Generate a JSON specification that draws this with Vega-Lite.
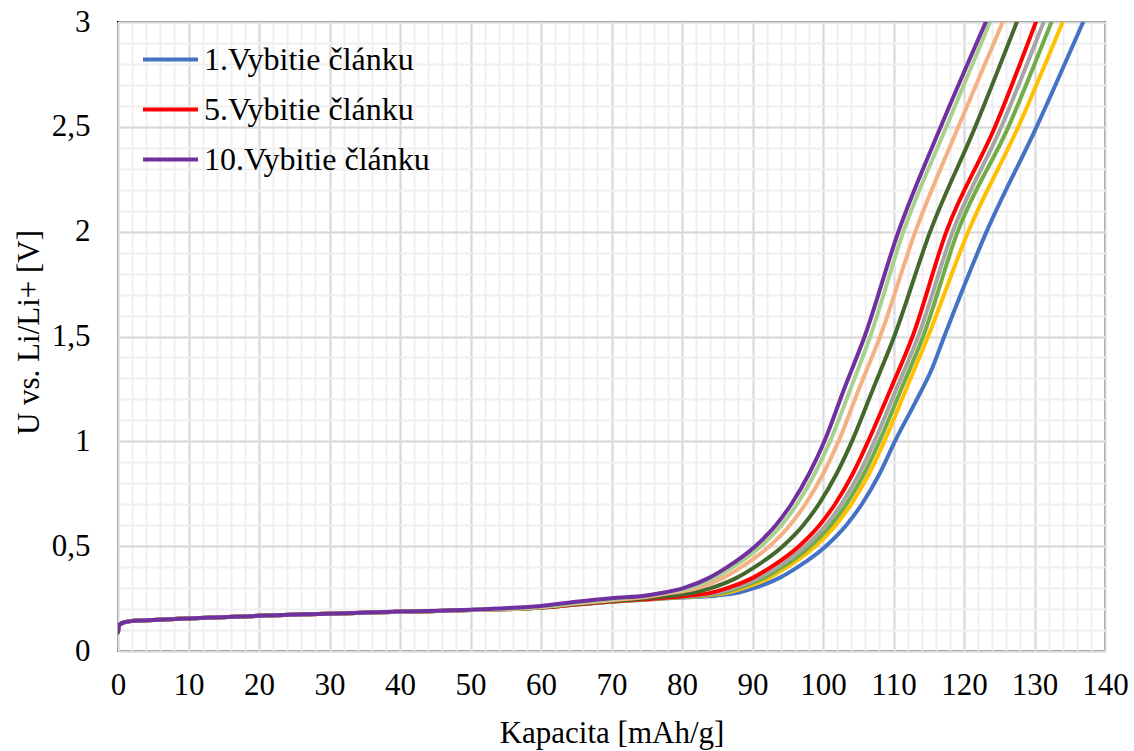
{
  "$schema": "https://vega.github.io/schema/vega-lite/v6.json",
  "width": 987,
  "height": 629,
  "autosize": "none",
  "padding": {"left": 118, "top": 22, "right": 29, "bottom": 100},
  "background": "white",
  "config": {
    "view": {"stroke": "#000000", "strokeWidth": 2},
    "font": "Liberation Serif"
  },
  "data": {
    "values": [
      {"s": "1.Vybitie článku",
       "x": [0, 0.2, 1, 2, 5, 10, 20, 30, 40, 50, 60, 65, 70, 75, 80, 85, 87.5, 90.2, 93.9, 96.4, 100.4, 103.3, 105.5, 108.1, 110.2, 113.0, 115.5, 117.2, 123.2, 130.3, 136.9],
       "y": [0.09, 0.125, 0.138, 0.143, 0.148, 0.155, 0.168, 0.178, 0.187, 0.195, 0.207, 0.222, 0.235, 0.245, 0.255, 0.265, 0.275, 0.3, 0.35, 0.4, 0.5, 0.6, 0.7, 0.85, 1.0, 1.18, 1.35, 1.5, 2.0, 2.5, 3.0]},
      {"s": "2.Vybitie článku",
       "x": [0, 0.2, 1, 2, 5, 10, 20, 30, 40, 50, 60, 65, 70, 75, 80, 83.5, 86.0, 88.7, 92.4, 94.9, 98.9, 101.8, 104.0, 106.6, 108.7, 111.8, 114.9, 120.6, 127.7, 134.0],
       "y": [0.09, 0.125, 0.138, 0.143, 0.148, 0.155, 0.168, 0.178, 0.187, 0.195, 0.207, 0.222, 0.236, 0.246, 0.257, 0.265, 0.275, 0.3, 0.35, 0.4, 0.5, 0.6, 0.7, 0.85, 1.0, 1.25, 1.5, 2.0, 2.5, 3.0]},
      {"s": "3.Vybitie článku",
       "x": [0, 0.2, 1, 2, 5, 10, 20, 30, 40, 50, 60, 65, 70, 75, 80, 82.8, 85.3, 88.0, 91.7, 94.2, 98.2, 101.1, 103.3, 105.9, 108.0, 111.1, 114.2, 119.1, 126.3, 132.4],
       "y": [0.09, 0.125, 0.138, 0.143, 0.148, 0.155, 0.168, 0.178, 0.187, 0.195, 0.207, 0.222, 0.236, 0.247, 0.258, 0.265, 0.275, 0.3, 0.35, 0.4, 0.5, 0.6, 0.7, 0.85, 1.0, 1.25, 1.5, 2.0, 2.5, 3.0]},
      {"s": "4.Vybitie článku",
       "x": [0, 0.2, 1, 2, 5, 10, 20, 30, 40, 50, 60, 65, 70, 75, 79, 82.1, 84.6, 87.3, 91.0, 93.5, 97.5, 100.4, 102.6, 105.2, 107.3, 110.4, 113.5, 118.4, 125.3, 131.3],
       "y": [0.09, 0.125, 0.138, 0.143, 0.148, 0.155, 0.168, 0.178, 0.187, 0.195, 0.207, 0.222, 0.236, 0.247, 0.257, 0.265, 0.275, 0.3, 0.35, 0.4, 0.5, 0.6, 0.7, 0.85, 1.0, 1.25, 1.5, 2.0, 2.5, 3.0]},
      {"s": "5.Vybitie článku",
       "x": [0, 0.2, 1, 2, 5, 10, 20, 30, 40, 50, 60, 65, 70, 75, 78, 81.2, 83.7, 86.4, 90.1, 92.6, 96.6, 99.5, 101.7, 104.3, 106.4, 109.6, 112.7, 117.5, 124.4, 130.2],
       "y": [0.09, 0.125, 0.138, 0.143, 0.148, 0.155, 0.168, 0.178, 0.187, 0.195, 0.207, 0.222, 0.236, 0.247, 0.255, 0.265, 0.275, 0.3, 0.35, 0.4, 0.5, 0.6, 0.7, 0.85, 1.0, 1.25, 1.5, 2.0, 2.5, 3.0]},
      {"s": "6.Vybitie článku",
       "x": [0, 0.2, 1, 2, 5, 10, 20, 30, 40, 50, 60, 65, 70, 75, 78.9, 81.4, 84.1, 87.8, 90.3, 94.3, 97.2, 99.4, 102.0, 104.1, 107.1, 110.1, 115.2, 121.6, 127.5],
       "y": [0.09, 0.125, 0.138, 0.143, 0.148, 0.155, 0.168, 0.178, 0.187, 0.195, 0.208, 0.224, 0.238, 0.252, 0.265, 0.277, 0.3, 0.35, 0.4, 0.5, 0.6, 0.7, 0.85, 1.0, 1.25, 1.5, 2.0, 2.5, 3.0]},
      {"s": "7.Vybitie článku",
       "x": [0, 0.2, 1, 2, 5, 10, 20, 30, 40, 50, 60, 65, 70, 74.5, 77.5, 82.2, 85.9, 88.4, 92.4, 95.3, 97.5, 100.1, 102.2, 105.1, 108.1, 113.1, 119.2, 125.5],
       "y": [0.09, 0.125, 0.138, 0.143, 0.148, 0.155, 0.168, 0.178, 0.187, 0.195, 0.209, 0.226, 0.242, 0.256, 0.272, 0.3, 0.35, 0.4, 0.5, 0.6, 0.7, 0.85, 1.0, 1.25, 1.5, 2.0, 2.5, 3.0]},
      {"s": "8.Vybitie článku",
       "x": [0, 0.2, 1, 2, 5, 10, 20, 30, 40, 50, 60, 65, 70, 74, 77.5, 81.0, 84.7, 87.2, 91.2, 94.1, 96.3, 98.9, 101.0, 103.9, 106.7, 111.4, 117.5, 123.7],
       "y": [0.09, 0.125, 0.138, 0.143, 0.148, 0.155, 0.168, 0.178, 0.187, 0.196, 0.211, 0.23, 0.247, 0.26, 0.278, 0.3, 0.35, 0.4, 0.5, 0.6, 0.7, 0.85, 1.0, 1.25, 1.5, 2.0, 2.5, 3.0]},
      {"s": "10.Vybitie článku",
       "x": [0, 0.2, 1, 2, 5, 10, 20, 30, 40, 50, 55, 60, 65, 70, 75, 77.5, 80.2, 83.9, 86.4, 90.4, 93.3, 95.5, 98.1, 100.2, 103.0, 105.9, 110.7, 116.7, 123.1],
       "y": [0.09, 0.125, 0.138, 0.143, 0.148, 0.155, 0.168, 0.178, 0.188, 0.197, 0.204, 0.215, 0.235, 0.252, 0.265, 0.279, 0.3, 0.35, 0.4, 0.5, 0.6, 0.7, 0.85, 1.0, 1.25, 1.5, 2.0, 2.5, 3.0]}
    ]
  },
  "transform": [{"flatten": ["x", "y"]}],
  "layer": [
    {
      "mark": {"type": "line", "opacity": 0},
      "encoding": {
        "x": {
          "field": "x", "type": "quantitative",
          "scale": {"domain": [0, 140], "nice": false, "zero": false},
          "axis": {
            "orient": "top", "title": null, "labels": false, "ticks": false, "domain": false,
            "grid": true, "gridColor": "#EFEFEF", "gridWidth": 2,
            "values": [0,2,4,6,8,10,12,14,16,18,20,22,24,26,28,30,32,34,36,38,40,42,44,46,48,50,52,54,56,58,60,62,64,66,68,70,72,74,76,78,80,82,84,86,88,90,92,94,96,98,100,102,104,106,108,110,112,114,116,118,120,122,124,126,128,130,132,134,136,138,140]
          }
        },
        "y": {
          "field": "y", "type": "quantitative",
          "scale": {"domain": [0, 3], "nice": false, "zero": false},
          "axis": {
            "orient": "right", "title": null, "labels": false, "ticks": false, "domain": false,
            "grid": true, "gridColor": "#EFEFEF", "gridWidth": 2,
            "values": [0,0.1,0.2,0.3,0.4,0.5,0.6,0.7,0.8,0.9,1,1.1,1.2,1.3,1.4,1.5,1.6,1.7,1.8,1.9,2,2.1,2.2,2.3,2.4,2.5,2.6,2.7,2.8,2.9,3]
          }
        }
      }
    },
    {
      "mark": {"type": "line", "strokeWidth": 4, "interpolate": "monotone", "strokeCap": "round", "strokeJoin": "round", "clip": true},
      "encoding": {
        "x": {
          "field": "x", "type": "quantitative",
          "scale": {"domain": [0, 140], "nice": false, "zero": false},
          "axis": {
            "orient": "bottom",
            "title": "Kapacita [mAh/g]",
            "values": [0,10,20,30,40,50,60,70,80,90,100,110,120,130,140],
            "grid": true, "gridColor": "#D9D9D9", "gridWidth": 2,
            "domain": false, "ticks": false, "labelFlush": false,
            "labelFont": "Liberation Serif", "labelFontSize": 31, "labelColor": "#000000", "labelPadding": 19,
            "titleFont": "Liberation Serif", "titleFontSize": 31, "titleFontWeight": "normal", "titleColor": "#000000",
            "titleBaseline": "alphabetic", "titleY": 91
          }
        },
        "y": {
          "field": "y", "type": "quantitative",
          "scale": {"domain": [0, 3], "nice": false, "zero": false},
          "axis": {
            "orient": "left",
            "title": "U vs. Li/Li+ [V]",
            "values": [0, 0.5, 1, 1.5, 2, 2.5, 3],
            "labelExpr": "replace(format(datum.value, '~g'), '.', ',')",
            "grid": true, "gridColor": "#D9D9D9", "gridWidth": 2,
            "domain": false, "ticks": false, "labelFlush": false,
            "labelFont": "Liberation Serif", "labelFontSize": 31, "labelColor": "#000000", "labelPadding": 28,
            "titleFont": "Liberation Serif", "titleFontSize": 31, "titleFontWeight": "normal", "titleColor": "#000000",
            "titleBaseline": "alphabetic", "titleX": -80, "titleY": 310, "titleAngle": -90, "titleAlign": "center"
          }
        },
        "color": {
          "field": "s", "type": "nominal",
          "scale": {
            "domain": ["1.Vybitie článku", "2.Vybitie článku", "3.Vybitie článku", "4.Vybitie článku", "5.Vybitie článku", "6.Vybitie článku", "7.Vybitie článku", "8.Vybitie článku", "10.Vybitie článku"],
            "range": ["#4472C4", "#FFC000", "#70AD47", "#A5A5A5", "#FF0000", "#43682B", "#F4B183", "#A9D18E", "#7030A0"]
          },
          "legend": {
            "values": ["1.Vybitie článku", "5.Vybitie článku", "10.Vybitie článku"],
            "orient": "none", "legendX": 23, "legendY": 8, "title": null, "padding": 0,
            "symbolType": "stroke", "symbolSize": 3025, "symbolStrokeWidth": 4,
            "labelFont": "Liberation Serif", "labelFontSize": 32, "labelColor": "#000000", "labelOffset": 4, "labelLimit": 400,
            "rowPadding": 4
          }
        }
      }
    }
  ],
  "resolve": {"axis": {"x": "independent", "y": "independent"}}
}
